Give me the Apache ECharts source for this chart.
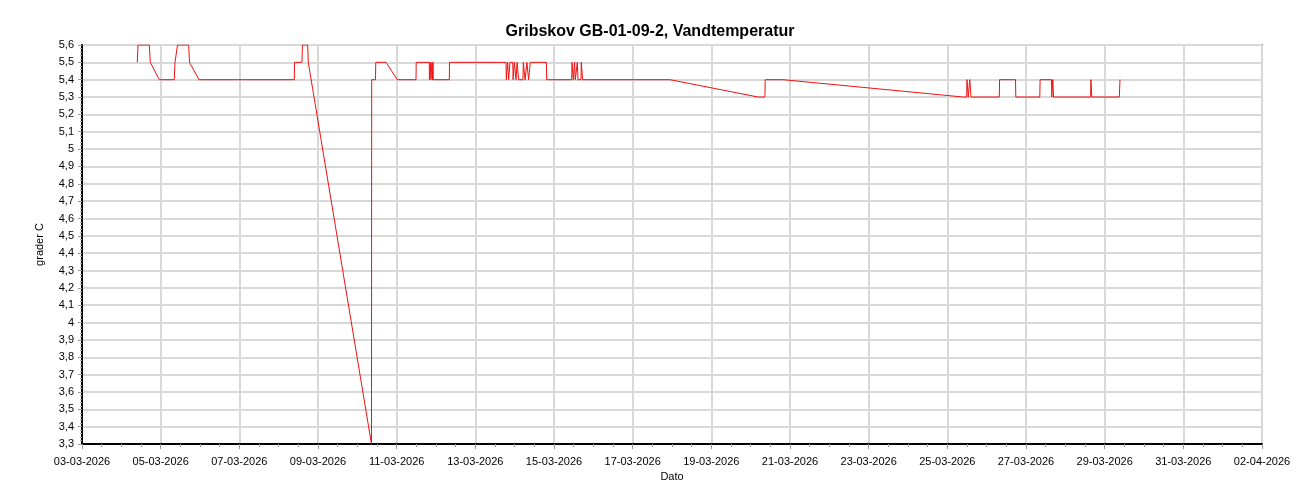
<!DOCTYPE html>
<html>
<head>
<meta charset="utf-8">
<title>Gribskov GB-01-09-2, Vandtemperatur</title>
<script src="https://cdn.jsdelivr.net/npm/echarts@6/dist/echarts.min.js"></script>
<style>
  html, body { margin: 0; padding: 0; background: #fff; }
  #chart { width: 1300px; height: 500px; }
</style>
</head>
<body>
<div id="chart"></div>
<script>
// readings (local time)
const times = [
  '2026-03-04 09:44', '2026-03-04 10:10', '2026-03-04 17:04', '2026-03-04 17:40', '2026-03-04 23:10',
  '2026-03-05 08:19', '2026-03-05 08:45', '2026-03-05 09:58', '2026-03-05 10:16', '2026-03-05 17:06',
  '2026-03-05 17:36', '2026-03-05 23:24',
  '2026-03-08 09:32', '2026-03-08 09:40', '2026-03-08 14:14', '2026-03-08 14:30', '2026-03-08 17:43',
  '2026-03-08 18:04',
  '2026-03-10 08:38', '2026-03-10 08:45', '2026-03-10 11:05', '2026-03-10 11:15', '2026-03-10 17:30',
  '2026-03-11 00:23', '2026-03-11 11:48', '2026-03-11 11:55', '2026-03-11 19:55', '2026-03-11 20:00',
  '2026-03-11 20:38', '2026-03-11 20:55', '2026-03-11 21:33', '2026-03-11 21:50', '2026-03-11 22:10',
  '2026-03-11 22:20',
  '2026-03-12 08:07', '2026-03-12 08:15',
  '2026-03-13 18:43', '2026-03-13 18:54', '2026-03-13 19:31', '2026-03-13 19:42', '2026-03-13 20:07',
  '2026-03-13 20:18', '2026-03-13 20:59', '2026-03-13 21:09', '2026-03-13 22:52', '2026-03-13 23:03',
  '2026-03-13 23:36', '2026-03-13 23:47', '2026-03-14 00:38', '2026-03-14 00:49', '2026-03-14 01:18',
  '2026-03-14 01:29', '2026-03-14 02:13', '2026-03-14 02:24', '2026-03-14 05:05', '2026-03-14 05:16',
  '2026-03-14 06:11', '2026-03-14 06:22', '2026-03-14 07:17', '2026-03-14 07:28', '2026-03-14 08:19',
  '2026-03-14 08:30', '2026-03-14 09:21', '2026-03-14 09:32',
  '2026-03-14 19:21', '2026-03-14 19:32',
  '2026-03-15 10:48', '2026-03-15 10:59', '2026-03-15 11:36', '2026-03-15 11:47', '2026-03-15 12:23',
  '2026-03-15 12:34', '2026-03-15 13:00', '2026-03-15 14:02', '2026-03-15 14:13', '2026-03-15 14:39',
  '2026-03-15 16:29', '2026-03-15 16:40', '2026-03-15 17:16', '2026-03-15 17:27',
  '2026-03-17 22:45', '2026-03-20 04:37', '2026-03-20 08:42', '2026-03-20 08:53', '2026-03-20 19:52',
  '2026-03-25 09:45', '2026-03-25 11:48', '2026-03-25 11:59', '2026-03-25 12:35', '2026-03-25 12:46',
  '2026-03-25 13:30', '2026-03-25 13:41', '2026-03-25 14:17', '2026-03-25 14:28',
  '2026-03-26 07:42', '2026-03-26 07:53', '2026-03-26 17:36', '2026-03-26 17:47',
  '2026-03-27 08:25', '2026-03-27 08:36', '2026-03-27 15:33', '2026-03-27 15:44', '2026-03-27 16:10',
  '2026-03-27 16:20', '2026-03-27 16:38', '2026-03-27 16:49',
  '2026-03-28 15:26', '2026-03-28 15:37', '2026-03-28 15:59', '2026-03-28 16:10',
  '2026-03-29 08:56', '2026-03-29 09:21'
]

const temps = [
  5.5, 5.6, 5.6, 5.5, 5.4,
  5.4, 5.5, 5.5, 5.6, 5.6,
  5.5, 5.4,
  5.4, 5.5, 5.5, 5.6, 5.6,
  5.5,
  3.3, 5.4, 5.4, 5.5, 5.5,
  5.4, 5.4, 5.5, 5.5, 5.4,
  5.5, 5.4, 5.5, 5.4, 5.5,
  5.4,
  5.4, 5.5,
  5.5, 5.4, 5.4, 5.5, 5.5,
  5.4, 5.4, 5.5, 5.5, 5.4,
  5.4, 5.5, 5.5, 5.4, 5.4,
  5.5, 5.5, 5.4, 5.4, 5.5,
  5.5, 5.4, 5.4, 5.5, 5.5,
  5.4, 5.4, 5.5,
  5.5, 5.4,
  5.4, 5.5, 5.5, 5.4, 5.4,
  5.5, 5.4, 5.4, 5.5, 5.4,
  5.4, 5.5, 5.5, 5.4,
  5.4, 5.3, 5.3, 5.4, 5.4,
  5.3, 5.3, 5.4, 5.4, 5.3,
  5.3, 5.4, 5.4, 5.3,
  5.3, 5.4, 5.4, 5.3,
  5.3, 5.4, 5.4, 5.3, 5.3,
  5.4, 5.4, 5.3,
  5.3, 5.4, 5.4, 5.3,
  5.3, 5.4
]

const startDate = '2026-03-03 00:00'
const dayCount = 30
const yMin = 3.3
const yMax = 5.6

const DAY = 86400000

function parseTime(s) {
  const [d, t] = s.split(' ')
  const [y, m, dd] = d.split('-').map(Number)
  const [hh, mm] = t.split(':').map(Number)
  return Date.UTC(y, m - 1, dd, hh, mm)
}

const t0 = parseTime(startDate)
const points = times.map((s, i) => [(parseTime(s) - t0) / DAY, temps[i]])

function pad(n) {
  return String(n).padStart(2, '0')
}

function dayLabel(v) {
  const d = new Date(t0 + Math.round(v * 24) * 3600000)
  return pad(d.getUTCDate()) + '-' + pad(d.getUTCMonth() + 1) + '-' + d.getUTCFullYear()
}

const chart = echarts.init(document.getElementById('chart'))

const font = 'Liberation Sans, Arial, sans-serif'
const gridColor = '#d8d8d8'

chart.setOption({
  animation: false,
  textStyle: { fontFamily: font },
  title: {
    text: 'Gribskov GB-01-09-2, Vandtemperatur',
    left: 'center',
    top: 19,
    textStyle: { fontSize: 16, fontWeight: 'bold', color: '#000', fontFamily: font }
  },
  grid: {
    left: 82,
    right: 38,
    top: 45,
    bottom: 56,
    show: true,
    borderColor: '#8a8a8a',
    borderWidth: 2
  },
  xAxis: {
    type: 'value',
    min: 0,
    max: dayCount,
    interval: 2,
    name: 'Dato',
    nameLocation: 'middle',
    nameGap: 21,
    nameTextStyle: { fontSize: 11, color: '#000' },
    axisLine: { show: true, onZero: false, lineStyle: { color: '#000', width: 2 } },
    axisTick: { show: true, length: 5, lineStyle: { color: '#999' } },
    minorTick: { show: true, splitNumber: 4, length: 3, lineStyle: { color: '#999' } },
    axisLabel: {
      fontSize: 11,
      color: '#000',
      margin: 12,
      formatter: dayLabel
    },
    splitLine: { show: true, lineStyle: { color: gridColor, width: 2 } }
  },
  yAxis: {
    type: 'value',
    min: yMin,
    max: yMax,
    interval: 0.1,
    name: 'grader C',
    nameLocation: 'middle',
    nameGap: 37,
    nameTextStyle: { fontSize: 11, color: '#000' },
    axisLine: { show: true, onZero: false, lineStyle: { color: '#000', width: 2 } },
    axisTick: { show: true, length: 4, lineStyle: { color: '#999' } },
    minorTick: { show: true, splitNumber: 5, length: 2, lineStyle: { color: '#aaa' } },
    axisLabel: {
      fontSize: 11,
      color: '#000',
      margin: 8,
      formatter: (v) => String(Math.round(v * 10) / 10).replace('.', ',')
    },
    splitLine: { show: true, lineStyle: { color: gridColor, width: 2 } }
  },
  series: [
    {
      type: 'line',
      data: points,
      showSymbol: false,
      lineStyle: { color: '#ee1111', width: 1 },
      itemStyle: { color: '#ee1111' }
    }
  ]
})
</script>
</body>
</html>
